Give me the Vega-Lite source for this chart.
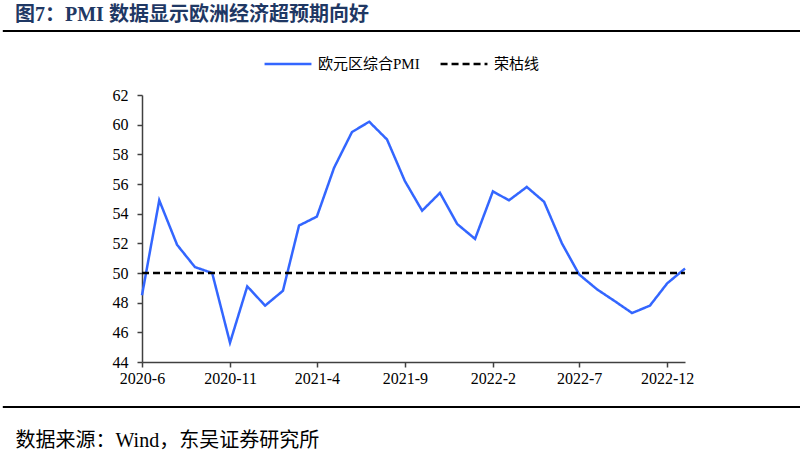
{
  "$schema": "https://vega.github.io/schema/vega-lite/v6.json",
  "width": 543,
  "height": 267,
  "autosize": {"type": "none"},
  "padding": {"left": 142, "top": 95, "right": 115, "bottom": 92},
  "background": "white",
  "title": {
    "text": "图7：PMI 数据显示欧洲经济超预期向好",
    "anchor": "start",
    "frame": "group",
    "dx": -127,
    "offset": 5,
    "fontSize": 20,
    "fontWeight": "bold",
    "font": "'Liberation Serif', 'Noto Sans CJK SC'",
    "color": "#1F3864"
  },
  "config": {
    "view": {"stroke": null},
    "legend": {
      "orient": "none",
      "legendX": 121,
      "legendY": -56,
      "direction": "horizontal",
      "symbolType": "stroke",
      "symbolSize": 2200,
      "symbolStrokeWidth": 2.5,
      "labelFontSize": 15,
      "labelFont": "'Liberation Serif', 'Noto Sans CJK SC'",
      "labelColor": "black",
      "labelOffset": 5,
      "columnPadding": 15
    }
  },
  "data": {
    "values": [
      {"date": "2020/06/01", "s": "欧元区综合PMI", "v": 48.5},
      {"date": "2020/07/01", "s": "欧元区综合PMI", "v": 54.9},
      {"date": "2020/08/01", "s": "欧元区综合PMI", "v": 51.9},
      {"date": "2020/09/01", "s": "欧元区综合PMI", "v": 50.4},
      {"date": "2020/10/01", "s": "欧元区综合PMI", "v": 50.0},
      {"date": "2020/11/01", "s": "欧元区综合PMI", "v": 45.3},
      {"date": "2020/12/01", "s": "欧元区综合PMI", "v": 49.1},
      {"date": "2021/01/01", "s": "欧元区综合PMI", "v": 47.8},
      {"date": "2021/02/01", "s": "欧元区综合PMI", "v": 48.8},
      {"date": "2021/03/01", "s": "欧元区综合PMI", "v": 53.2},
      {"date": "2021/04/01", "s": "欧元区综合PMI", "v": 53.8},
      {"date": "2021/05/01", "s": "欧元区综合PMI", "v": 57.1},
      {"date": "2021/06/01", "s": "欧元区综合PMI", "v": 59.5},
      {"date": "2021/07/01", "s": "欧元区综合PMI", "v": 60.2},
      {"date": "2021/08/01", "s": "欧元区综合PMI", "v": 59.0},
      {"date": "2021/09/01", "s": "欧元区综合PMI", "v": 56.2},
      {"date": "2021/10/01", "s": "欧元区综合PMI", "v": 54.2},
      {"date": "2021/11/01", "s": "欧元区综合PMI", "v": 55.4},
      {"date": "2021/12/01", "s": "欧元区综合PMI", "v": 53.3},
      {"date": "2022/01/01", "s": "欧元区综合PMI", "v": 52.3},
      {"date": "2022/02/01", "s": "欧元区综合PMI", "v": 55.5},
      {"date": "2022/03/01", "s": "欧元区综合PMI", "v": 54.9},
      {"date": "2022/04/01", "s": "欧元区综合PMI", "v": 55.8},
      {"date": "2022/05/01", "s": "欧元区综合PMI", "v": 54.8},
      {"date": "2022/06/01", "s": "欧元区综合PMI", "v": 52.0},
      {"date": "2022/07/01", "s": "欧元区综合PMI", "v": 49.9},
      {"date": "2022/08/01", "s": "欧元区综合PMI", "v": 48.9},
      {"date": "2022/09/01", "s": "欧元区综合PMI", "v": 48.1},
      {"date": "2022/10/01", "s": "欧元区综合PMI", "v": 47.3},
      {"date": "2022/11/01", "s": "欧元区综合PMI", "v": 47.8},
      {"date": "2022/12/01", "s": "欧元区综合PMI", "v": 49.3},
      {"date": "2023/01/01", "s": "欧元区综合PMI", "v": 50.3},
      {"date": "2020/06/01", "s": "荣枯线", "v": 50},
      {"date": "2023/01/01", "s": "荣枯线", "v": 50}
    ]
  },
  "layer": [
    {
      "mark": {"type": "line", "strokeWidth": 2.5},
      "encoding": {
        "x": {
          "field": "date",
          "type": "temporal",
          "scale": {"domain": [{"year": 2020, "month": 6, "date": 1}, {"year": 2023, "month": 1, "date": 1}]},
          "axis": {
            "values": [
              {"year": 2020, "month": 6, "date": 1},
              {"year": 2020, "month": 11, "date": 1},
              {"year": 2021, "month": 4, "date": 1},
              {"year": 2021, "month": 9, "date": 1},
              {"year": 2022, "month": 2, "date": 1},
              {"year": 2022, "month": 7, "date": 1},
              {"year": 2022, "month": 12, "date": 1}
            ],
            "tickCount": 20,
            "format": "%Y-%-m",
            "formatType": "time",
            "grid": false,
            "tickSize": 5,
            "tickColor": "#404040",
            "domainColor": "#404040",
            "domainWidth": 1.5,
            "tickWidth": 1.5,
            "labelFont": "'Liberation Serif', 'Noto Sans CJK SC'",
            "labelFontSize": 16,
            "labelColor": "black",
            "labelPadding": 3,
            "labelFlush": false,
            "labelOverlap": false,
            "title": "数据来源：Wind，东吴证券研究所",
            "titleX": -127,
            "titleY": 78,
            "titleAlign": "left",
            "titleBaseline": "middle",
            "titleFont": "'Liberation Serif', 'Noto Sans CJK SC'",
            "titleFontSize": 20,
            "titleFontWeight": "normal",
            "titleColor": "black"
          }
        },
        "y": {
          "field": "v",
          "type": "quantitative",
          "scale": {"domain": [44, 62], "nice": false, "zero": false},
          "axis": {
            "values": [44, 46, 48, 50, 52, 54, 56, 58, 60, 62],
            "tickCount": 20,
            "grid": false,
            "title": null,
            "tickSize": 5,
            "tickColor": "#404040",
            "domainColor": "#404040",
            "domainWidth": 1.5,
            "tickWidth": 1.5,
            "labelFont": "'Liberation Serif', 'Noto Sans CJK SC'",
            "labelFontSize": 16,
            "labelColor": "black",
            "labelPadding": 9,
            "labelOverlap": false,
            "labelFlush": false
          }
        },
        "color": {
          "field": "s",
          "type": "nominal",
          "title": null,
          "scale": {"domain": ["欧元区综合PMI", "荣枯线"], "range": ["#3366FF", "#000000"]}
        },
        "strokeDash": {
          "field": "s",
          "type": "nominal",
          "title": null,
          "scale": {"domain": ["欧元区综合PMI", "荣枯线"], "range": [[1, 0], [7, 4]]}
        }
      }
    },
    {
      "data": {"values": [{}]},
      "mark": {"type": "rule", "clip": false, "strokeWidth": 2, "color": "black"},
      "encoding": {
        "x": {"datum": {"year": 2019, "month": 10, "date": 3}, "type": "temporal"},
        "x2": {"datum": {"year": 2023, "month": 7, "date": 20}},
        "y": {"datum": 66.31, "type": "quantitative"}
      }
    },
    {
      "data": {"values": [{}]},
      "mark": {"type": "rule", "clip": false, "strokeWidth": 2, "color": "black"},
      "encoding": {
        "x": {"datum": {"year": 2019, "month": 10, "date": 3}, "type": "temporal"},
        "x2": {"datum": {"year": 2023, "month": 7, "date": 20}},
        "y": {"datum": 40.97, "type": "quantitative"}
      }
    }
  ]
}
